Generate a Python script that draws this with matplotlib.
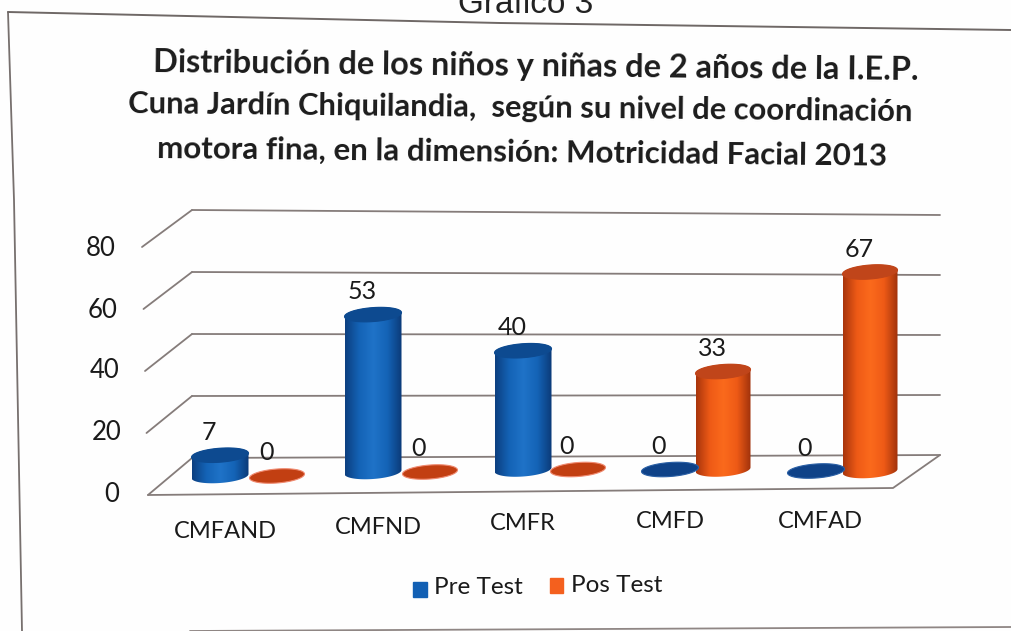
# Gráfico 3 - scanned 3D cylinder chart
import numpy as np
import matplotlib
matplotlib.use("Agg")
import matplotlib.pyplot as plt
from matplotlib.colors import LinearSegmentedColormap
from matplotlib.patches import Polygon, PathPatch
from matplotlib.path import Path

# Data
categories = ["CMFAND", "CMFND", "CMFR", "CMFD", "CMFAD"]
pre_test = [7, 53, 40, 0, 0]
pos_test = [0, 0, 0, 33, 67]
y_ticks = [0, 20, 40, 60, 80]

title_lines = [
    "Distribución de los niños y niñas de 2 años de la I.E.P.",
    "Cuna Jardín Chiquilandia,  según su nivel de coordinación",
    "motora fina, en la dimensión: Motricidad Facial 2013",
]

# Layout, in pixels of the scan
W, H = 1011, 631
px_per_unit = 2.97
y_zero = 472
pre_x = [220, 373, 523, 670, 816]
pos_x = [277, 430, 578, 723, 870]
floor_y = [476, 472, 469.5, 469.5, 471]
cat_label_xy = [(225, 531), (378, 527), (523, 523), (670, 522), (820, 522)]
tick_label_xy = [(112, 494), (107, 432), (105, 370), (103, 310), (101, 249)]

fig = plt.figure(figsize=(W / 100, H / 100), dpi=100, facecolor="#fefefe")

# pixel axes for frame, walls and text
bg = fig.add_axes([0, 0, 1, 1])
bg.set_xlim(0, W)
bg.set_ylim(H, 0)
bg.axis("off")

# value axes for the cylinders: x in pixels, y in chart units
ax = fig.add_axes([0, 0, 1, 1], zorder=2)
ax.patch.set_alpha(0)
ax.axis("off")
ylim = ((y_zero - H) / px_per_unit, y_zero / px_per_unit)


def line(xs, ys, color="#857c7a", lw=1.3):
    bg.plot(xs, ys, color=color, lw=lw, solid_capstyle="round")


# frame of the chart
line([8, 14, 22], [12, 200, 631], color="#77706e", lw=1.3)
line([8, 500, 1011], [12, 23, 30], color="#6f6866", lw=1.4)
line([190, 1011], [631, 627], color="#8f8684", lw=1.3)

# back wall and side wall grid
for i, v in enumerate(y_ticks):
    back_y = 458 - v * 3.1
    right_y = 455 - v * 3.0
    front_x = 148 - i * 1.5
    front_y = 495 - v * 3.1
    line([front_x, 192], [front_y, back_y])
    line([192, 940], [back_y, right_y])
# floor
line([148, 893, 940], [495, 488, 455])

# labels
for t, (x, y) in zip(y_ticks, tick_label_xy):
    bg.text(x, y, str(t), ha="center", va="center", fontsize=18.5,
            family="Lato", color="#1a1a1a")
for c, (x, y) in zip(categories, cat_label_xy):
    bg.text(x, y, c, ha="center", va="center", fontsize=17,
            family="Lato", color="#1a1a1a")

bg.text(526, 13, "Gráfico 3", ha="center", va="baseline", fontsize=24,
        family="Liberation Sans", color="#222222")
for txt, x, y, size in zip(title_lines, [536, 520, 522], [67, 108, 152], [23.4, 22.2, 22.5]):
    bg.text(x, y, txt, ha="center", va="center", fontsize=size,
            family="Lato", weight="bold", color="#1c1c1c",
            rotation=-0.6, rotation_mode="anchor")

# legend
bg.fill([413, 427, 427, 413], [582, 582, 597, 597], color="#1260b4")
bg.fill([550, 563, 563, 550], [578, 578, 593, 593], color="#f4601e")
bg.text(434, 588, "Pre Test", ha="left", va="center", fontsize=17.5,
        family="Lato", color="#1a1a1a")
bg.text(571, 585, "Pos Test", ha="left", va="center", fontsize=17.5,
        family="Lato", color="#1a1a1a")

blue_map = LinearSegmentedColormap.from_list(
    "blue", ["#0c3f80", "#1463b6", "#1f73c8", "#1463b6", "#0b3a78"])
orange_map = LinearSegmentedColormap.from_list(
    "orange", ["#a8350c", "#ee5a16", "#fb6a1c", "#ee5a16", "#a0320c"])


def ellipse_pts(cx, cy, a, b_units, tilt, start=0.0, stop=2 * np.pi):
    t = np.linspace(start, stop, 60)
    xs = cx + a * np.cos(t)
    ys = cy + b_units * np.sin(t) + tilt * np.cos(t)
    return np.column_stack([xs, ys])


def cylinder(cx, base_px, value, half_w, cmap, top_color, flat_color):
    bottom = (y_zero - base_px) / px_per_unit
    top = bottom + value
    b = 7.0 / px_per_unit
    tilt = 2.0 / px_per_unit
    if value == 0:
        ax.add_patch(Polygon(ellipse_pts(cx, bottom, half_w, b, tilt),
                             facecolor=flat_color, edgecolor="#f08a70" if flat_color == "#c23f12" else "#2a5fa5",
                             lw=0.8, zorder=4))
    else:
        lower = ellipse_pts(cx, bottom, half_w, b, tilt, np.pi, 2 * np.pi)
        upper = ellipse_pts(cx, top, half_w, b, tilt, 0, np.pi)
        body = np.vstack([lower, upper])
        patch = PathPatch(Path(np.vstack([body, body[0]]), closed=True),
                          facecolor="none", edgecolor="none", zorder=3)
        ax.add_patch(patch)
        grad = np.linspace(0, 1, 128).reshape(1, -1)
        im = ax.imshow(grad, cmap=cmap, aspect="auto", zorder=3,
                       extent=(cx - half_w, cx + half_w, bottom - b - 1, top + b + 1))
        im.set_clip_path(patch)
        ax.add_patch(Polygon(ellipse_pts(cx, top, half_w, b, tilt),
                             facecolor=top_color, edgecolor=top_color,
                             lw=0.8, zorder=4))
    ax.annotate(str(value), (cx, top), xytext=(-11 * 0.72, 23 * 0.72),
                textcoords="offset points", ha="center", va="center",
                fontsize=18, family="Lato", color="#1a1a1a", zorder=5)


for i in range(len(categories)):
    cylinder(pre_x[i], floor_y[i], pre_test[i], 28.5, blue_map, "#0d4a90", "#0f4288")
    cylinder(pos_x[i], floor_y[i], pos_test[i], 27.5, orange_map, "#c0451a", "#c23f12")

ax.set_xlim(0, W)
ax.set_ylim(*ylim)

fig.savefig("out.png", dpi=100, facecolor=fig.get_facecolor())
